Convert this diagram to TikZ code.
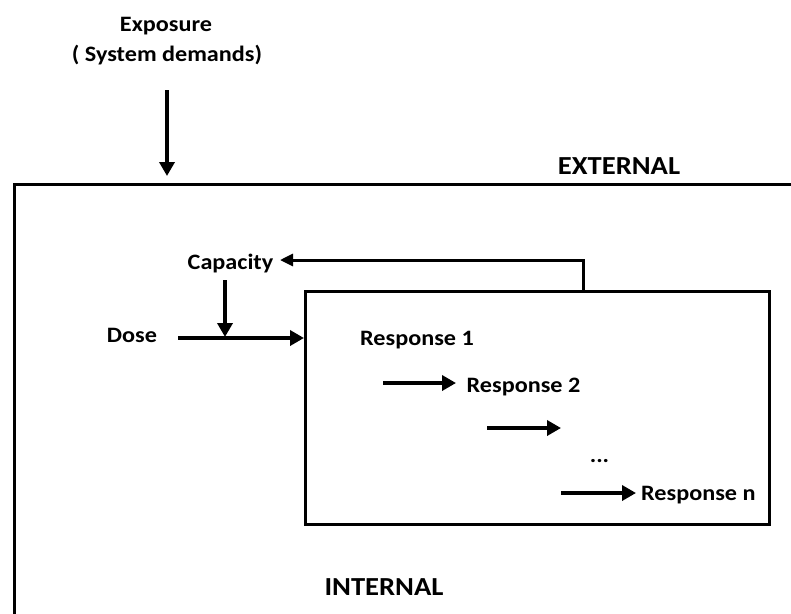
\documentclass[tikz,border=0pt]{standalone}
\usepackage{fontspec}
\setmainfont{Carlito}[FakeStretch=1.1]
\usetikzlibrary{arrows.meta}
\begin{document}
\begin{tikzpicture}[x=1pt,y=-1pt,
  lbl/.style={font=\bfseries\fontsize{22}{26}\selectfont, inner sep=0pt},
  big/.style={font=\bfseries\fontsize{26}{30}\selectfont, inner sep=0pt},
  flow/.style={line width=4pt, -{Triangle[length=14pt,width=15pt]}},
  frame/.style={line width=3pt}]
\useasboundingbox (0,0) rectangle (791,613);
\begin{scope}
\clip (0,0) rectangle (791,613);
% boundary between the external and internal regions
\draw[frame] (14,630) -- (14,184) -- (810,184);
\end{scope}
% region and input labels
\node[lbl, anchor=base] (exp) at (166,31) {Exposure};
\node[lbl, anchor=base] (sys) at (167,61) {( System demands)};
\node[big, anchor=base] (ext) at (619,174) {EXTERNAL};
\node[big, anchor=base] (int) at (384,595) {INTERNAL};
\node[lbl, anchor=base] (cap) at (230.5,269) {Capacity};
\node[lbl, anchor=base] (dose) at (132,342) {Dose};
% responses box
\node[draw, line width=3pt, minimum width=464pt, minimum height=233pt, inner sep=0pt, anchor=north west] (box) at (304,290) {};
\node[lbl, anchor=base west] (r1) at (360,345) {Response 1};
\node[lbl, anchor=base west] (r2) at (466.5,392) {Response 2};
\node[lbl, anchor=base] (dots) at (599.5,462) {...};
\node[lbl, anchor=base west] (rn) at (641,500) {Response n};
% exposure enters from outside
\coordinate (e0) at (167,90);
\coordinate (e1) at (167,176);
\draw[flow] (e0) -- (e1);
% dose into the responses box
\coordinate (d0) at (178,338);
\draw[flow] (d0) -- (box.west |- d0);
% capacity modulates the dose
\coordinate (c0) at (225,280);
\coordinate (c1) at (225,337);
\draw[flow] (c0) -- (c1);
% feedback from the responses back to capacity
\coordinate (fb0) at (583,290);
\coordinate (fb1) at (583,260);
\coordinate (fb2) at (280,260);
\draw[line width=3pt, -{Triangle[length=13pt,width=12pt]}] (fb0) -- (fb1) -- (fb2);
% response cascade
\coordinate (a1) at (383,383);
\coordinate (a1e) at (456,383);
\draw[flow] (a1) -- (a1e);
\coordinate (a2) at (487,428);
\coordinate (a2e) at (561,428);
\draw[flow] (a2) -- (a2e);
\coordinate (a3) at (561,493);
\coordinate (a3e) at (636,493);
\draw[flow] (a3) -- (a3e);
\end{tikzpicture}
\end{document}
